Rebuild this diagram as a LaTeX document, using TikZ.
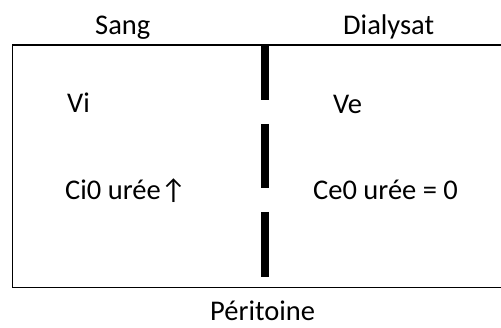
\documentclass[tikz,border=0pt]{standalone}
\usepackage{fontspec}
\setmainfont{Carlito}
\begin{document}
\begin{tikzpicture}[x=1pt,y=1pt,
  lbl/.style={inner sep=0pt, font=\fontsize{28.5}{32}\selectfont},
  wall/.style={line width=8pt},
  frame/.style={draw, line width=1.6pt}]
\useasboundingbox (0,0) rectangle (501,327);
% compartment outline (right side runs past the page edge)
\draw[frame] (520,39.5) -- (12.5,39.5) -- (12.5,282) -- (520,282);
% peritoneal membrane drawn as a broken thick bar
\coordinate (w1a) at (265,282); \coordinate (w1b) at (265,226.5);
\coordinate (w2a) at (265,203);   \coordinate (w2b) at (265,139);
\coordinate (w3a) at (265,115);   \coordinate (w3b) at (265,50);
\draw[wall] (w1a) -- (w1b);
\draw[wall] (w2a) -- (w2b);
\draw[wall] (w3a) -- (w3b);
% labels
\node[lbl, anchor=base west] (sang) at (95,292) {Sang};
\node[lbl, anchor=base west] (dial) at (343,292) {Dialysat};
\node[lbl, anchor=base west] (vi) at (67,214) {Vi};
\node[lbl, anchor=base west] (ve) at (333,213) {Ve};
\node[lbl, anchor=base west] (ci) at (65,127) {Ci0 urée↑};
\node[lbl, anchor=base west] (ce) at (313,127) {Ce0 urée = 0};
\node[lbl, anchor=base west] (peri) at (210,7) {Péritoine};
\end{tikzpicture}
\end{document}
